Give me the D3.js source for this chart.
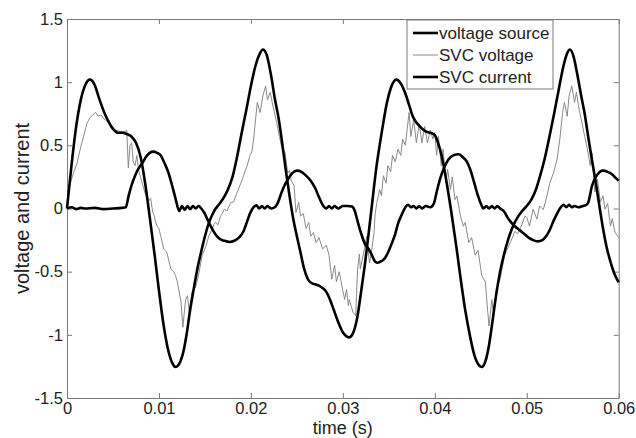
<!DOCTYPE html>
<html>
<head>
<meta charset="utf-8">
<script src="https://cdn.jsdelivr.net/npm/d3@7"></script>
<style>
  body { margin: 0; background: #fff; }
  svg text { font-family: "Liberation Sans", Arial, Helvetica, sans-serif; }
</style>
</head>
<body>
<div id="chart"></div>
<script>
// time (s) / value pairs
const voltageSource = [
  [0, 0], [0.0005, 0.35], [0.001, 0.65], [0.0015, 0.86], [0.002, 0.98], [0.0025, 1.02],
  [0.003, 0.98], [0.0035, 0.87], [0.004, 0.77], [0.0045, 0.69], [0.005, 0.63], [0.0055, 0.6],
  [0.006, 0.6], [0.0065, 0.59], [0.007, 0.57], [0.0075, 0.52], [0.008, 0.41], [0.0085, 0.2],
  [0.009, -0.07], [0.0095, -0.35], [0.01, -0.65], [0.0105, -0.92], [0.011, -1.12], [0.0115, -1.23],
  [0.0118, -1.255], [0.0122, -1.23], [0.0127, -1.12], [0.013, -1.0], [0.0134, -0.8], [0.0138, -0.63],
  [0.0142, -0.47], [0.0146, -0.34], [0.015, -0.22], [0.0155, -0.1], [0.016, -0.02], [0.0165, 0.03],
  [0.017, 0.08], [0.0175, 0.15], [0.018, 0.25], [0.0185, 0.41], [0.019, 0.6], [0.0195, 0.78],
  [0.02, 0.97], [0.0205, 1.13], [0.021, 1.23], [0.0213, 1.258], [0.0217, 1.22], [0.0222, 1.05],
  [0.0226, 0.87], [0.023, 0.72], [0.0234, 0.52], [0.0238, 0.3], [0.0242, 0.1], [0.0246, -0.08],
  [0.025, -0.22], [0.0254, -0.35], [0.0258, -0.48], [0.0262, -0.56], [0.0266, -0.59], [0.027, -0.6],
  [0.0274, -0.61], [0.0278, -0.63], [0.0282, -0.66], [0.0286, -0.72], [0.029, -0.8], [0.0295, -0.9],
  [0.03, -0.98], [0.0307, -1.02], [0.0312, -0.97], [0.0316, -0.85], [0.032, -0.65], [0.0324, -0.44],
  [0.0328, -0.2], [0.0332, 0.05], [0.0336, 0.3], [0.034, 0.5], [0.0344, 0.68], [0.0348, 0.84],
  [0.0352, 0.95], [0.0358, 1.02], [0.0363, 0.99], [0.0368, 0.91], [0.0372, 0.82], [0.0376, 0.73],
  [0.038, 0.68], [0.0385, 0.64], [0.039, 0.61], [0.0395, 0.6], [0.04, 0.58], [0.0403, 0.53],
  [0.0408, 0.4], [0.0413, 0.2], [0.0418, -0.03], [0.0423, -0.28], [0.0428, -0.55], [0.0433, -0.8],
  [0.0438, -1.0], [0.0443, -1.16], [0.0448, -1.24], [0.0451, -1.255], [0.0455, -1.21], [0.0459, -1.08],
  [0.0463, -0.88], [0.0467, -0.67], [0.0471, -0.5], [0.0475, -0.37], [0.048, -0.24], [0.0485, -0.14],
  [0.049, -0.07], [0.0495, -0.02], [0.05, 0.02], [0.0505, 0.07], [0.051, 0.15], [0.0515, 0.27],
  [0.052, 0.41], [0.0525, 0.58], [0.053, 0.76], [0.0535, 0.95], [0.054, 1.13], [0.0544, 1.23],
  [0.0547, 1.258], [0.0551, 1.2], [0.0555, 1.06], [0.0559, 0.9], [0.0563, 0.75], [0.0567, 0.56],
  [0.0571, 0.38], [0.0575, 0.21], [0.0579, 0.02], [0.0583, -0.16], [0.0587, -0.31], [0.0591, -0.42],
  [0.0595, -0.51], [0.06, -0.585]
];

const svcVoltage = [
  [0, 0], [0.0002, 0.15], [0.0004, 0.21], [0.0007, 0.28], [0.0011, 0.36], [0.0015, 0.49],
  [0.0018, 0.57], [0.0022, 0.68], [0.0025, 0.72], [0.0028, 0.74], [0.0031, 0.76], [0.0034, 0.73],
  [0.0037, 0.74], [0.004, 0.71], [0.0044, 0.69], [0.0049, 0.65], [0.0053, 0.62], [0.0058, 0.61],
  [0.0063, 0.61], [0.0065, 0.62], [0.00667, 0.32], [0.00685, 0.5], [0.00703, 0.52], [0.0072, 0.37],
  [0.0074, 0.34], [0.0076, 0.42], [0.0078, 0.3], [0.0081, 0.22], [0.0083, 0.17], [0.0085, 0.12],
  [0.0087, 0.09], [0.0089, 0.06], [0.0091, 0.08], [0.0093, -0.02], [0.0095, -0.06], [0.0096, -0.1],
  [0.0098, -0.14], [0.01, -0.16], [0.0102, -0.22], [0.0104, -0.28], [0.0105, -0.32], [0.0108, -0.34],
  [0.0109, -0.36], [0.0112, -0.45], [0.0113, -0.48], [0.0116, -0.5], [0.0118, -0.53], [0.012, -0.58],
  [0.0122, -0.66], [0.0124, -0.74], [0.0126, -0.94], [0.0129, -0.72], [0.0131, -0.69], [0.0133, -0.82],
  [0.0136, -0.66], [0.014, -0.62], [0.0143, -0.53], [0.0147, -0.37], [0.0151, -0.3], [0.0153, -0.25],
  [0.0154, -0.22], [0.0158, -0.16], [0.016, -0.12], [0.0162, -0.11], [0.0164, -0.13], [0.0167, -0.06],
  [0.0169, -0.04], [0.0171, -0.005], [0.0174, -0.02], [0.0178, 0.047], [0.0181, 0.05], [0.0185, 0.126],
  [0.0189, 0.2], [0.0192, 0.26], [0.0196, 0.34], [0.0199, 0.42], [0.0201, 0.45], [0.0203, 0.55],
  [0.0205, 0.7], [0.0207, 0.84], [0.021, 0.76], [0.0213, 0.89], [0.0216, 0.97], [0.0218, 0.86],
  [0.0221, 0.92], [0.0224, 0.81], [0.0228, 0.68], [0.0231, 0.57], [0.0234, 0.47], [0.0237, 0.45],
  [0.024, 0.28], [0.0242, 0.3], [0.0244, 0.22], [0.0247, 0.18], [0.0249, -0.03], [0.0252, 0.05],
  [0.0254, -0.06], [0.0257, -0.04], [0.026, -0.16], [0.0263, -0.11], [0.0265, -0.22], [0.0268, -0.19],
  [0.0271, -0.27], [0.0274, -0.23], [0.0278, -0.32], [0.0282, -0.29], [0.0285, -0.37], [0.0288, -0.56],
  [0.0291, -0.45], [0.0293, -0.58], [0.0296, -0.5], [0.03, -0.65], [0.0302, -0.72], [0.0304, -0.64],
  [0.0306, -0.77], [0.0307, -0.72], [0.0311, -0.82], [0.0314, -0.85], [0.0316, -0.48], [0.0318, -0.36],
  [0.0319, -0.48], [0.0324, -0.3], [0.0326, -0.22], [0.0329, -0.43], [0.0331, -0.35], [0.0334, -0.19],
  [0.0335, -0.05], [0.0337, 0.047], [0.034, 0.15], [0.0342, 0.1], [0.0344, 0.26], [0.0347, 0.2],
  [0.0349, 0.34], [0.0352, 0.29], [0.0354, 0.42], [0.0357, 0.37], [0.036, 0.47], [0.0363, 0.42],
  [0.0365, 0.55], [0.0368, 0.5], [0.0372, 0.76], [0.0374, 0.57], [0.0377, 0.7], [0.038, 0.52],
  [0.0383, 0.67], [0.0386, 0.52], [0.0389, 0.65], [0.0392, 0.52], [0.0395, 0.62], [0.0398, 0.55],
  [0.04, 0.6], [0.0402, 0.42], [0.0404, 0.57], [0.0407, 0.34], [0.0409, 0.47], [0.0412, 0.2],
  [0.0414, 0.31], [0.0417, 0.15], [0.0419, 0.25], [0.0422, 0.07], [0.0424, 0.1], [0.0428, -0.06],
  [0.0431, -0.14], [0.0433, -0.11], [0.0437, -0.27], [0.044, -0.23], [0.0444, -0.37], [0.0447, -0.33],
  [0.0451, -0.53], [0.0455, -0.58], [0.0457, -0.77], [0.0459, -0.93], [0.0462, -0.72], [0.0464, -0.85],
  [0.0467, -0.64], [0.0471, -0.56], [0.0476, -0.37], [0.0482, -0.27], [0.0485, -0.22], [0.0487, -0.18],
  [0.049, -0.2], [0.0493, -0.16], [0.0498, -0.06], [0.05, -0.07], [0.0503, -0.14], [0.0507, -0.005],
  [0.0511, -0.084], [0.0514, 0.02], [0.0518, -0.01], [0.0522, 0.1], [0.0525, 0.2], [0.0529, 0.28],
  [0.0533, 0.39], [0.0536, 0.55], [0.0539, 0.76], [0.0541, 0.84], [0.0544, 0.73], [0.0546, 0.89],
  [0.0549, 0.97], [0.0552, 0.84], [0.0554, 0.92], [0.0557, 0.78], [0.056, 0.68], [0.0563, 0.57],
  [0.0566, 0.47], [0.0569, 0.34], [0.0571, 0.44], [0.0574, 0.13], [0.0577, 0.23], [0.058, 0.05],
  [0.0583, 0.1], [0.0585, -0.005], [0.0588, 0.04], [0.0591, -0.14], [0.0593, -0.08], [0.0596, -0.19],
  [0.06, -0.23]
];

const svcCurrent = [
  [0, 0], [0.0005, 0.01], [0.001, -0.005], [0.0015, 0.005], [0.002, 0], [0.003, 0.005],
  [0.004, -0.005], [0.005, 0], [0.006, 0.005], [0.0064, 0.01], [0.0067, 0.1], [0.007, 0.18],
  [0.0074, 0.26], [0.0078, 0.32], [0.0082, 0.36], [0.0086, 0.41], [0.009, 0.44], [0.0094, 0.45],
  [0.0098, 0.44], [0.0102, 0.42], [0.0106, 0.36], [0.011, 0.29], [0.0114, 0.19], [0.0118, 0.08],
  [0.0122, -0.02], [0.0125, 0.02], [0.0128, -0.01], [0.0131, 0.02], [0.0134, -0.005], [0.0137, 0.02],
  [0.014, 0.0], [0.0143, 0.02], [0.0146, 0.0], [0.0149, -0.03], [0.0153, -0.09], [0.0157, -0.15],
  [0.0161, -0.2], [0.0166, -0.24], [0.0171, -0.255], [0.0177, -0.265], [0.0182, -0.255], [0.0187, -0.23],
  [0.0192, -0.18], [0.0196, -0.1], [0.0199, -0.04], [0.0203, 0.01], [0.0206, 0.025], [0.0209, 0.0],
  [0.0212, 0.02], [0.0215, 0.0], [0.0218, 0.02], [0.0222, 0.0], [0.0226, 0.01], [0.0229, 0.04],
  [0.0233, 0.12], [0.0237, 0.19], [0.0241, 0.24], [0.0245, 0.28], [0.025, 0.3], [0.0255, 0.29],
  [0.026, 0.26], [0.0265, 0.22], [0.027, 0.16], [0.0274, 0.09], [0.0278, 0.03], [0.0282, 0.0],
  [0.0285, 0.02], [0.0288, 0.0], [0.0291, 0.02], [0.0295, 0.0], [0.03, 0.02], [0.0305, 0.02],
  [0.031, 0.015], [0.0313, -0.02], [0.0316, -0.1], [0.032, -0.2], [0.0324, -0.28], [0.0328, -0.32],
  [0.0331, -0.36], [0.0335, -0.42], [0.0338, -0.43], [0.0341, -0.42], [0.0345, -0.4], [0.0349, -0.35],
  [0.0353, -0.28], [0.0357, -0.2], [0.036, -0.12], [0.0364, -0.05], [0.0368, 0.01], [0.0371, 0.03],
  [0.0374, 0.01], [0.0377, 0.02], [0.038, 0.0], [0.0383, 0.02], [0.0386, 0.0], [0.039, 0.02],
  [0.0395, 0.01], [0.0399, 0.04], [0.0402, 0.13], [0.0406, 0.24], [0.041, 0.32], [0.0415, 0.39],
  [0.042, 0.42], [0.0426, 0.43], [0.043, 0.41], [0.0435, 0.37], [0.0439, 0.3], [0.0443, 0.2],
  [0.0447, 0.1], [0.045, 0.04], [0.0453, 0.0], [0.0456, 0.02], [0.0459, 0.0], [0.0462, 0.02],
  [0.0465, 0.0], [0.0468, 0.02], [0.0471, 0.0], [0.0475, -0.02], [0.0479, -0.07], [0.0483, -0.11],
  [0.0487, -0.14], [0.0492, -0.17], [0.0497, -0.2], [0.0502, -0.23], [0.0507, -0.25], [0.0512, -0.26],
  [0.0517, -0.25], [0.0521, -0.22], [0.0525, -0.17], [0.0529, -0.1], [0.0533, -0.04], [0.0537, 0.01],
  [0.054, 0.03], [0.0543, 0.01], [0.0546, 0.03], [0.0549, 0.01], [0.0552, 0.02], [0.0556, 0.01],
  [0.0561, 0.02], [0.0565, 0.03], [0.0567, 0.05], [0.0571, 0.18], [0.0576, 0.26], [0.0583, 0.3],
  [0.0588, 0.29], [0.0593, 0.27], [0.0597, 0.24], [0.06, 0.22]
];

const seriesNames = ["voltage source", "SVC voltage", "SVC current"];
const xTicks = [0, 0.01, 0.02, 0.03, 0.04, 0.05, 0.06];
const yTicks = [-1.5, -1, -0.5, 0, 0.5, 1, 1.5];

const W = 636, H = 438;
const margin = { left: 67, top: 19, right: 17.3, bottom: 40 };
const width = W - margin.left - margin.right;
const height = H - margin.top - margin.bottom;

const svg = d3.select("#chart").append("svg")
  .attr("width", W)
  .attr("height", H);

const g = svg.append("g")
  .attr("transform", `translate(${margin.left},${margin.top})`);

const x = d3.scaleLinear().domain([0, 0.06]).range([0, width]);
const y = d3.scaleLinear().domain([-1.5, 1.5]).range([height, 0]);

const axisColor = "#7a7a7a";
const textColor = "#222";

// axes with inward ticks, MATLAB style
function styleAxis(sel) {
  sel.attr("font-family", null);
  sel.select(".domain").attr("stroke", axisColor);
  sel.selectAll(".tick line").attr("stroke", axisColor);
  sel.selectAll(".tick text").attr("fill", textColor).style("font-size", "16.5px");
}

g.append("g")
  .attr("transform", `translate(0,${height})`)
  .call(d3.axisBottom(x).tickValues(xTicks).tickSizeInner(-5).tickSizeOuter(0).tickPadding(4)
    .tickFormat(d => d === 0 ? "0" : d3.format(".2f")(d)))
  .call(styleAxis);

g.append("g")
  .call(d3.axisTop(x).tickValues(xTicks).tickSizeInner(-5).tickSizeOuter(0).tickFormat(""))
  .call(styleAxis);

g.append("g")
  .call(d3.axisLeft(y).tickValues(yTicks).tickSizeInner(-5).tickSizeOuter(0).tickPadding(4)
    .tickFormat(d => String(d)))
  .call(styleAxis);

g.append("g")
  .attr("transform", `translate(${width},0)`)
  .call(d3.axisRight(y).tickValues(yTicks).tickSizeInner(-5).tickSizeOuter(0).tickFormat(""))
  .call(styleAxis);

// lines
const smooth = d3.line().x(d => x(d[0])).y(d => y(d[1])).curve(d3.curveMonotoneX);
const straight = d3.line().x(d => x(d[0])).y(d => y(d[1]));

g.append("path")
  .datum(svcVoltage)
  .attr("d", straight)
  .attr("fill", "none")
  .attr("stroke", "#8a8a8a")
  .attr("stroke-width", 1);

g.append("path")
  .datum(svcCurrent)
  .attr("d", smooth)
  .attr("fill", "none")
  .attr("stroke", "#000")
  .attr("stroke-width", 2.6)
  .attr("stroke-linejoin", "round");

g.append("path")
  .datum(voltageSource)
  .attr("d", smooth)
  .attr("fill", "none")
  .attr("stroke", "#000")
  .attr("stroke-width", 2.6)
  .attr("stroke-linejoin", "round");

// legend
const legend = svg.append("g").attr("transform", "translate(407,20)");
legend.append("rect")
  .attr("width", 146)
  .attr("height", 69)
  .attr("fill", "#fff")
  .attr("stroke", axisColor);

const legendStyles = [
  { stroke: "#000", w: 2.6 },
  { stroke: "#8a8a8a", w: 1 },
  { stroke: "#000", w: 2.6 }
];

seriesNames.forEach((name, i) => {
  const ly = 13 + i * 22;
  legend.append("line")
    .attr("x1", 6).attr("x2", 31)
    .attr("y1", ly).attr("y2", ly)
    .attr("stroke", legendStyles[i].stroke)
    .attr("stroke-width", legendStyles[i].w);
  legend.append("text")
    .attr("x", 32)
    .attr("y", ly)
    .attr("dy", "0.35em")
    .attr("fill", textColor)
    .style("font-size", "17px")
    .text(name);
});

// axis labels
svg.append("text")
  .attr("x", margin.left + width / 2)
  .attr("y", 434)
  .attr("text-anchor", "middle")
  .attr("fill", textColor)
  .style("font-size", "18px")
  .text("time (s)");

svg.append("text")
  .attr("transform", `translate(29,${margin.top + height / 2}) rotate(-90)`)
  .attr("text-anchor", "middle")
  .attr("fill", textColor)
  .style("font-size", "20px")
  .text("voltage and current");
</script>
</body>
</html>
